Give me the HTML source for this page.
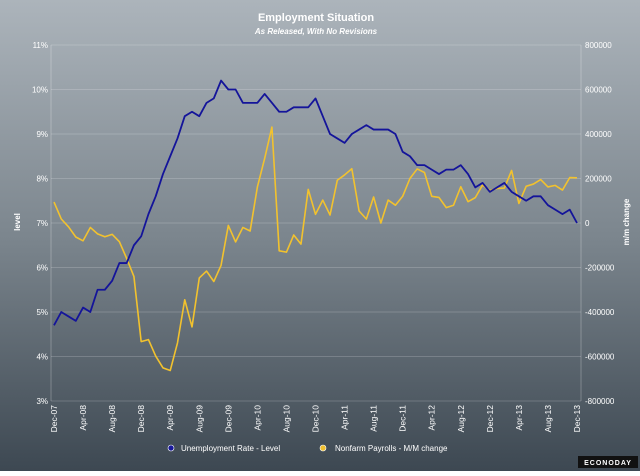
<!DOCTYPE html>
<html><head><meta charset="utf-8"><style>
html,body{margin:0;padding:0}
body{width:640px;height:471px;overflow:hidden;font-family:"Liberation Sans",sans-serif}
</style></head><body>
<svg id="chart" width="640" height="471" viewBox="0 0 640 471" xmlns="http://www.w3.org/2000/svg">
<defs><linearGradient id="bg" x1="0" y1="0" x2="0" y2="1">
<stop offset="0" stop-color="#acb4bb"/><stop offset="0.5" stop-color="#7c868e"/><stop offset="1" stop-color="#3d4852"/></linearGradient></defs>
<rect width="640" height="471" fill="url(#bg)"/>
<text x="316" y="21" text-anchor="middle" font-size="11" font-weight="bold" fill="#fff">Employment Situation</text>
<text x="316" y="34" text-anchor="middle" font-size="8" font-weight="bold" font-style="italic" fill="#fff">As Released, With No Revisions</text>
<text transform="translate(20,222) rotate(-90)" text-anchor="middle" font-size="8" font-weight="bold" fill="#fff">level</text>
<text transform="translate(629,222) rotate(-90)" text-anchor="middle" font-size="8" font-weight="bold" fill="#fff">m/m change</text>
<g id="grid"></g><g id="xlabels"></g><g id="series"></g>
<g>
<g><circle cx="171" cy="448" r="3" fill="#1a1a9c" stroke="#fff" stroke-width="0.6"/><text x="181" y="451" font-size="8" fill="#fff">Unemployment Rate - Level</text></g>
<g><circle cx="323" cy="448" r="3" fill="#f0c030" stroke="#fff" stroke-width="0.6"/><text x="335" y="451" font-size="8" fill="#fff">Nonfarm Payrolls - M/M change</text></g>
</g>
<rect x="578" y="456" width="60" height="12" fill="#111"/>
<text x="608" y="465" text-anchor="middle" font-size="7" font-weight="bold" fill="#fff" letter-spacing="1">ECONODAY</text>
</svg>
<script>
const months = ["Dec-07","Apr-08","Aug-08","Dec-08","Apr-09","Aug-09","Dec-09","Apr-10","Aug-10","Dec-10","Apr-11","Aug-11","Dec-11","Apr-12","Aug-12","Dec-12","Apr-13","Aug-13","Dec-13"];
const leftTicks = [3,4,5,6,7,8,9,10,11];
const rightTicks = [-800000,-600000,-400000,-200000,0,200000,400000,600000,800000];
const unemployment = [4.7,5.0,4.9,4.8,5.1,5.0,5.5,5.5,5.7,6.1,6.1,6.5,6.7,7.2,7.6,8.1,8.5,8.9,9.4,9.5,9.4,9.7,9.8,10.2,10.0,10.0,9.7,9.7,9.7,9.9,9.7,9.5,9.5,9.6,9.6,9.6,9.8,9.4,9.0,8.9,8.8,9.0,9.1,9.2,9.1,9.1,9.1,9.0,8.6,8.5,8.3,8.3,8.2,8.1,8.2,8.2,8.3,8.1,7.8,7.9,7.7,7.8,7.9,7.7,7.6,7.5,7.6,7.6,7.4,7.3,7.2,7.3,7.0];
const payrollsK = [94,18,-17,-63,-80,-20,-49,-62,-51,-84,-159,-240,-533,-524,-598,-651,-663,-539,-345,-467,-247,-216,-263,-190,-11,-85,-20,-36,162,290,431,-125,-131,-54,-95,151,39,103,36,192,216,244,54,18,117,0,103,80,120,200,243,227,120,115,69,80,163,96,114,171,146,155,157,236,88,165,175,195,162,169,148,204,203];

const NS="http://www.w3.org/2000/svg";
const X0=54,X1=577,PL=51,PR=581,YT=45,YB=401;
const n=unemployment.length;
const xs=i=>X0+(X1-X0)*i/(n-1);
const yl=v=>YB-(v-3)/8*(YB-YT);
const yr=v=>YB-(v+800000)/1600000*(YB-YT);
function mk(tag,attrs,parent){const e=document.createElementNS(NS,tag);for(const k in attrs)e.setAttribute(k,attrs[k]);parent.appendChild(e);return e;}
const grid=document.getElementById('grid');
leftTicks.forEach((t,i)=>{
  const y=yl(t);
  const ln=mk('line',{x1:PL,x2:PR,y1:y,y2:y,stroke:'rgba(255,255,255,0.18)','stroke-width':1},grid);
  
  
  const tx=mk('text',{x:48,y:y+3,'text-anchor':'end','font-size':8,fill:'#fff'},grid);
  tx.textContent=t+'%';
  
  
});
rightTicks.forEach(t=>{
  const tx=mk('text',{x:585,y:yr(t)+3,'font-size':8,fill:'#fff'},grid);
  tx.textContent=(t<0?'-':'')+Math.abs(t);
  
  
});
const ax=mk('line',{x1:PL,x2:PL,y1:YT,y2:YB,stroke:'rgba(255,255,255,0.25)'},grid);


const ax2=mk('line',{x1:PR,x2:PR,y1:YT,y2:YB,stroke:'rgba(255,255,255,0.25)'},grid);


const xl=document.getElementById('xlabels');
months.forEach((m,i)=>{
  const x=xs(i*4);
  const tx=mk('text',{transform:`translate(${x+3},${YB+4}) rotate(-90)`,'text-anchor':'end','font-size':8.5,fill:'#fff'},xl);
  tx.textContent=m;
  
  
});
const sg=document.getElementById('series');
const p1=mk('polyline',{points:payrollsK.map((v,i)=>xs(i)+','+yr(v*1000)).join(' '),fill:'none',stroke:'#f2c22e','stroke-width':1.6,'stroke-linejoin':'round'},sg);


const p2=mk('polyline',{points:unemployment.map((v,i)=>xs(i)+','+yl(v)).join(' '),fill:'none',stroke:'#14149a','stroke-width':1.8,'stroke-linejoin':'round'},sg);


</script>
</body></html>
